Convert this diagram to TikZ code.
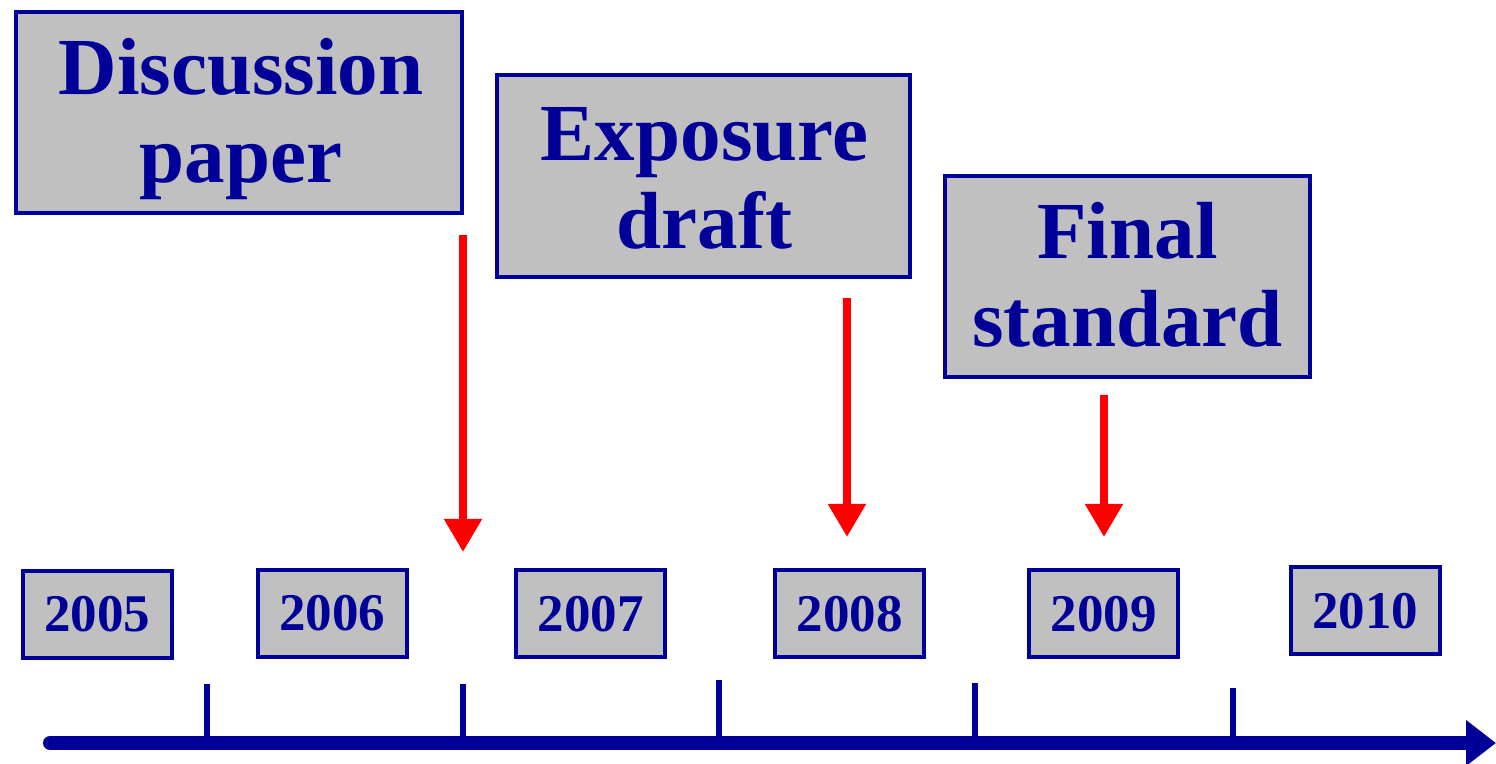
\documentclass[tikz,border=0pt]{standalone}
\usepackage{fontspec}
\setmainfont{Liberation Serif}
\usetikzlibrary{arrows.meta}
\definecolor{nblue}{RGB}{0,0,153}
\definecolor{boxgray}{RGB}{192,192,192}
\begin{document}
\begin{tikzpicture}[x=0.5pt,y=-0.5pt,
  bigbox/.style={draw=nblue,fill=boxgray,line width=2pt,inner sep=0pt},
  bigtext/.style={inner sep=0pt,align=center,text=nblue,
    font=\fontsize{40.5}{44}\selectfont\bfseries},
  yearbox/.style={draw=nblue,fill=boxgray,line width=2pt,inner sep=0pt,
    minimum width=74.5pt,minimum height=43.5pt,
    text=nblue,font=\fontsize{26.5}{30}\selectfont\bfseries},
  redarrow/.style={draw=red,line width=4pt,-{Triangle[length=16.5pt,width=18pt]}},
  axisline/.style={draw=nblue,line width=7pt,line cap=round,-{Triangle[length=15pt,width=22pt]}},
  tickline/.style={draw=nblue,line width=3pt}]
\useasboundingbox (0,0) rectangle (1496,764);
% big boxes
\node[bigbox,minimum width=223pt,minimum height=100.5pt] (disc) at (239,112.5) {};
\node[bigbox,minimum width=206.5pt,minimum height=101pt] (expo) at (703.5,176) {};
\node[bigbox,minimum width=182.5pt,minimum height=100.5pt] (final) at (1127.5,276.5) {};
\node[bigtext] (disct) at ([xshift=1pt,yshift=-3.5pt]disc.center) {Discussion\\paper};
\node[bigtext] (expot) at ([xshift=0.5pt,yshift=-1pt]expo.center) {Exposure\\draft};
\node[bigtext] (finalt) at ([yshift=1pt]final.center) {Final\\standard};
% year boxes
\node[yearbox] (y2005) at (97.5,614.5) {2005};
\node[yearbox] (y2006) at (332,613.5) {2006};
\node[yearbox] (y2007) at (590.5,614) {2007};
\node[yearbox] (y2008) at (849.5,614) {2008};
\node[yearbox] (y2009) at (1103.5,614) {2009};
\node[yearbox] (y2010) at (1365,611) {2010};
% red arrows
\coordinate (a1s) at (463,235);
\coordinate (a1e) at (463,552);
\coordinate (a2s) at (847,298);
\coordinate (a2e) at (847,537);
\coordinate (a3s) at (1104,395);
\coordinate (a3e) at (1104,537);
\draw[redarrow] (a1s) -- (a1e);
\draw[redarrow] (a2s) -- (a2e);
\draw[redarrow] (a3s) -- (a3e);
% axis
\coordinate (ax0) at (50,743);
\coordinate (ax1) at (1496,743);
\draw[axisline] (ax0) -- (ax1);
% ticks
\coordinate (t1a) at (207,684); \coordinate (t1b) at (207,740);
\coordinate (t2a) at (463,684); \coordinate (t2b) at (463,740);
\coordinate (t3a) at (719,680); \coordinate (t3b) at (719,736);
\coordinate (t4a) at (975,683); \coordinate (t4b) at (975,740);
\coordinate (t5a) at (1233,688); \coordinate (t5b) at (1233,740);
\draw[tickline] (t1a) -- (t1b);
\draw[tickline] (t2a) -- (t2b);
\draw[tickline] (t3a) -- (t3b);
\draw[tickline] (t4a) -- (t4b);
\draw[tickline] (t5a) -- (t5b);
\end{tikzpicture}
\end{document}
